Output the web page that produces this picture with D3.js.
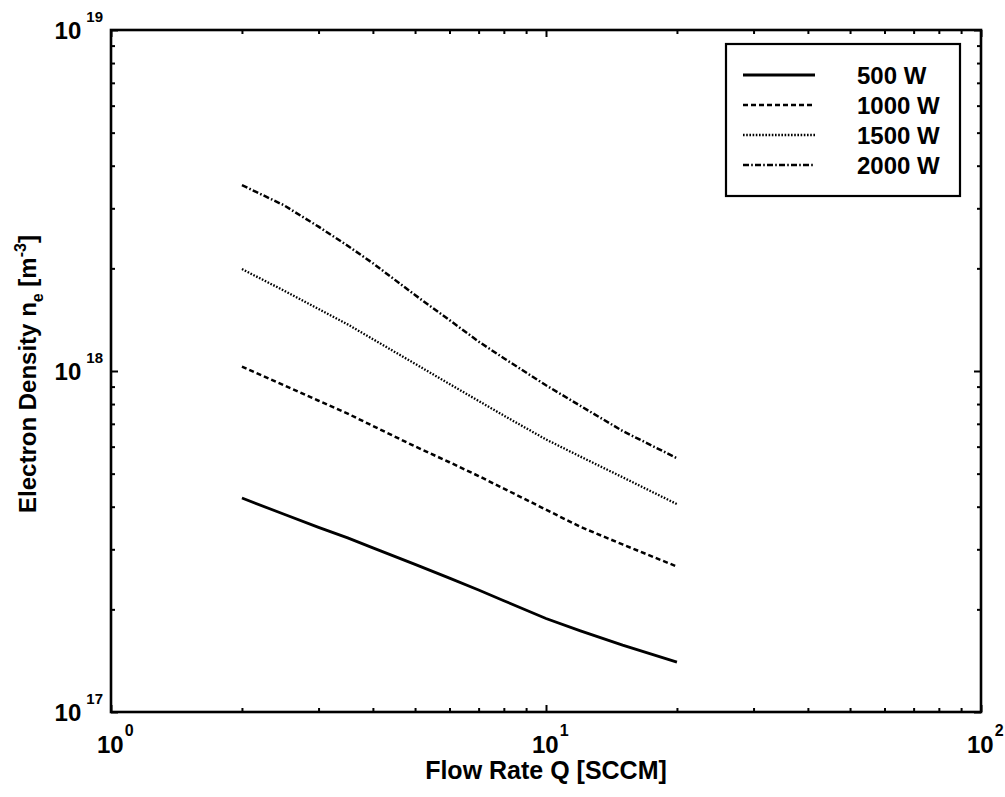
<!DOCTYPE html>
<html>
<head>
<meta charset="utf-8">
<script src="https://cdn.jsdelivr.net/npm/d3@7"></script>
<style>
  html, body { margin: 0; padding: 0; background: #fff; }
  svg { display: block; }
  text { font-family: "Liberation Sans", Arial, Helvetica, sans-serif; fill: #000; font-weight: bold; }
</style>
</head>
<body>
<svg id="chart" width="1005" height="797"></svg>
<script>
// ---- Data ----
const flowRates = [2, 2.5, 3, 3.5, 4, 5, 6, 7, 8, 10, 12, 15, 20];
const density500W  = [4.24e17, 3.80e17, 3.48e17, 3.24e17, 3.03e17, 2.71e17, 2.47e17, 2.28e17, 2.12e17, 1.88e17, 1.73e17, 1.57e17, 1.40e17];
const density1000W = [1.03e18, 9.08e17, 8.18e17, 7.50e17, 6.90e17, 6.01e17, 5.40e17, 4.92e17, 4.52e17, 3.92e17, 3.49e17, 3.10e17, 2.67e17];
const density1500W = [1.99e18, 1.72e18, 1.52e18, 1.37e18, 1.24e18, 1.05e18, 9.16e17, 8.17e17, 7.40e17, 6.30e17, 5.61e17, 4.88e17, 4.07e17];
const density2000W = [3.51e18, 3.06e18, 2.65e18, 2.33e18, 2.07e18, 1.67e18, 1.41e18, 1.22e18, 1.09e18, 9.08e17, 7.90e17, 6.67e17, 5.55e17];
const seriesNames = ["500 W", "1000 W", "1500 W", "2000 W"];
const xTickExponents = [0, 1, 2];
const yTickExponents = [17, 18, 19];
const xAxisTitle = "Flow Rate Q [SCCM]";

// ---- Styles ----
const dashes = [null, "5,3", "1.6,1.6", "6,2.2,1.6,2.2"];
const widths = [2.8, 2.5, 2.3, 2.5];

const svg = d3.select("#chart");
const L = 111, R = 981, T = 30, B = 712;

const x = d3.scaleLog().domain([1, 100]).range([L, R]);
const y = d3.scaleLog().domain([1e17, 1e19]).range([B, T]);

const series = [density500W, density1000W, density1500W, density2000W];

function logTicks(lo, hi) {
  const out = [];
  for (let e = lo; e < hi; e++) for (let m = 1; m < 10; m++) out.push(m * Math.pow(10, e));
  out.push(Math.pow(10, hi));
  return out;
}
const xTicks = logTicks(0, 2);
const yTicks = logTicks(17, 19);
const isMajor = v => Math.abs(Math.log10(v) - Math.round(Math.log10(v))) < 1e-9;

function styleAxis(g) {
  g.select(".domain").remove();
  g.selectAll(".tick line").attr("stroke", "#000").attr("stroke-width", 2);
  g.selectAll(".tick text").remove();
}
function tickLen(v) { return isMajor(v) ? 7 : 4; }

const gB = svg.append("g").attr("transform", `translate(0,${B})`)
  .call(d3.axisBottom(x).tickValues(xTicks).tickSizeOuter(0).tickFormat(""));
gB.selectAll(".tick line").attr("y2", d => -tickLen(d));
styleAxis(gB);
const gT = svg.append("g").attr("transform", `translate(0,${T})`)
  .call(d3.axisTop(x).tickValues(xTicks).tickSizeOuter(0).tickFormat(""));
gT.selectAll(".tick line").attr("y2", d => tickLen(d));
styleAxis(gT);
const gL = svg.append("g").attr("transform", `translate(${L},0)`)
  .call(d3.axisLeft(y).tickValues(yTicks).tickSizeOuter(0).tickFormat(""));
gL.selectAll(".tick line").attr("x2", d => tickLen(d));
styleAxis(gL);
const gR = svg.append("g").attr("transform", `translate(${R},0)`)
  .call(d3.axisRight(y).tickValues(yTicks).tickSizeOuter(0).tickFormat(""));
gR.selectAll(".tick line").attr("x2", d => -tickLen(d));
styleAxis(gR);

svg.append("rect").attr("x", L).attr("y", T).attr("width", R - L).attr("height", B - T)
  .attr("fill", "none").attr("stroke", "#000").attr("stroke-width", 2.6);

// Tick labels
xTickExponents.forEach(e => {
  const px = x(Math.pow(10, e));
  const t = svg.append("text").attr("x", px - 14).attr("y", 753).attr("font-size", 24);
  t.append("tspan").text("10");
  t.append("tspan").attr("font-size", 16).attr("dx", 1).attr("dy", -17).text(String(e));
});
yTickExponents.forEach(e => {
  const py = y(Math.pow(10, e));
  const t = svg.append("text").attr("x", 103).attr("y", py + 8.5)
    .attr("text-anchor", "end").attr("font-size", 24);
  t.append("tspan").text("10");
  t.append("tspan").attr("font-size", 15).attr("dx", 5).attr("dy", -17).text(String(e));
});

// Axis titles
svg.append("text").attr("x", (L + R) / 2).attr("y", 779).attr("text-anchor", "middle")
  .attr("font-size", 25).text(xAxisTitle);

const yt = svg.append("text").attr("transform", `translate(36,${(T + B) / 2 + 3}) rotate(-90)`)
  .attr("text-anchor", "middle").attr("font-size", 24);
yt.append("tspan").text("Electron Density n");
yt.append("tspan").attr("font-size", 16).attr("dy", 7).text("e");
yt.append("tspan").attr("dy", -7).text(" [m");
yt.append("tspan").attr("font-size", 16).attr("dy", -10).text("-3");
yt.append("tspan").attr("dy", 10).text("]");

// Lines
const line = d3.line().x(d => x(d[0])).y(d => y(d[1]));
series.forEach((vals, i) => {
  svg.append("path")
    .datum(flowRates.map((q, k) => [q, vals[k]]))
    .attr("d", line)
    .attr("fill", "none")
    .attr("stroke", "#000")
    .attr("stroke-width", widths[i])
    .attr("stroke-dasharray", dashes[i]);
});

// Legend
const lg = svg.append("g");
lg.append("rect").attr("x", 726).attr("y", 44).attr("width", 234).attr("height", 152)
  .attr("fill", "#fff").attr("stroke", "#000").attr("stroke-width", 2.2);
seriesNames.forEach((name, i) => {
  const ry = 75 + i * 30;
  lg.append("line").attr("x1", 743).attr("x2", 815).attr("y1", ry).attr("y2", ry)
    .attr("stroke", "#000").attr("stroke-width", widths[i]).attr("stroke-dasharray", dashes[i]);
  lg.append("text").attr("x", 857).attr("y", ry + 8.5).attr("font-size", 24).text(name);
});
</script>
</body>
</html>
